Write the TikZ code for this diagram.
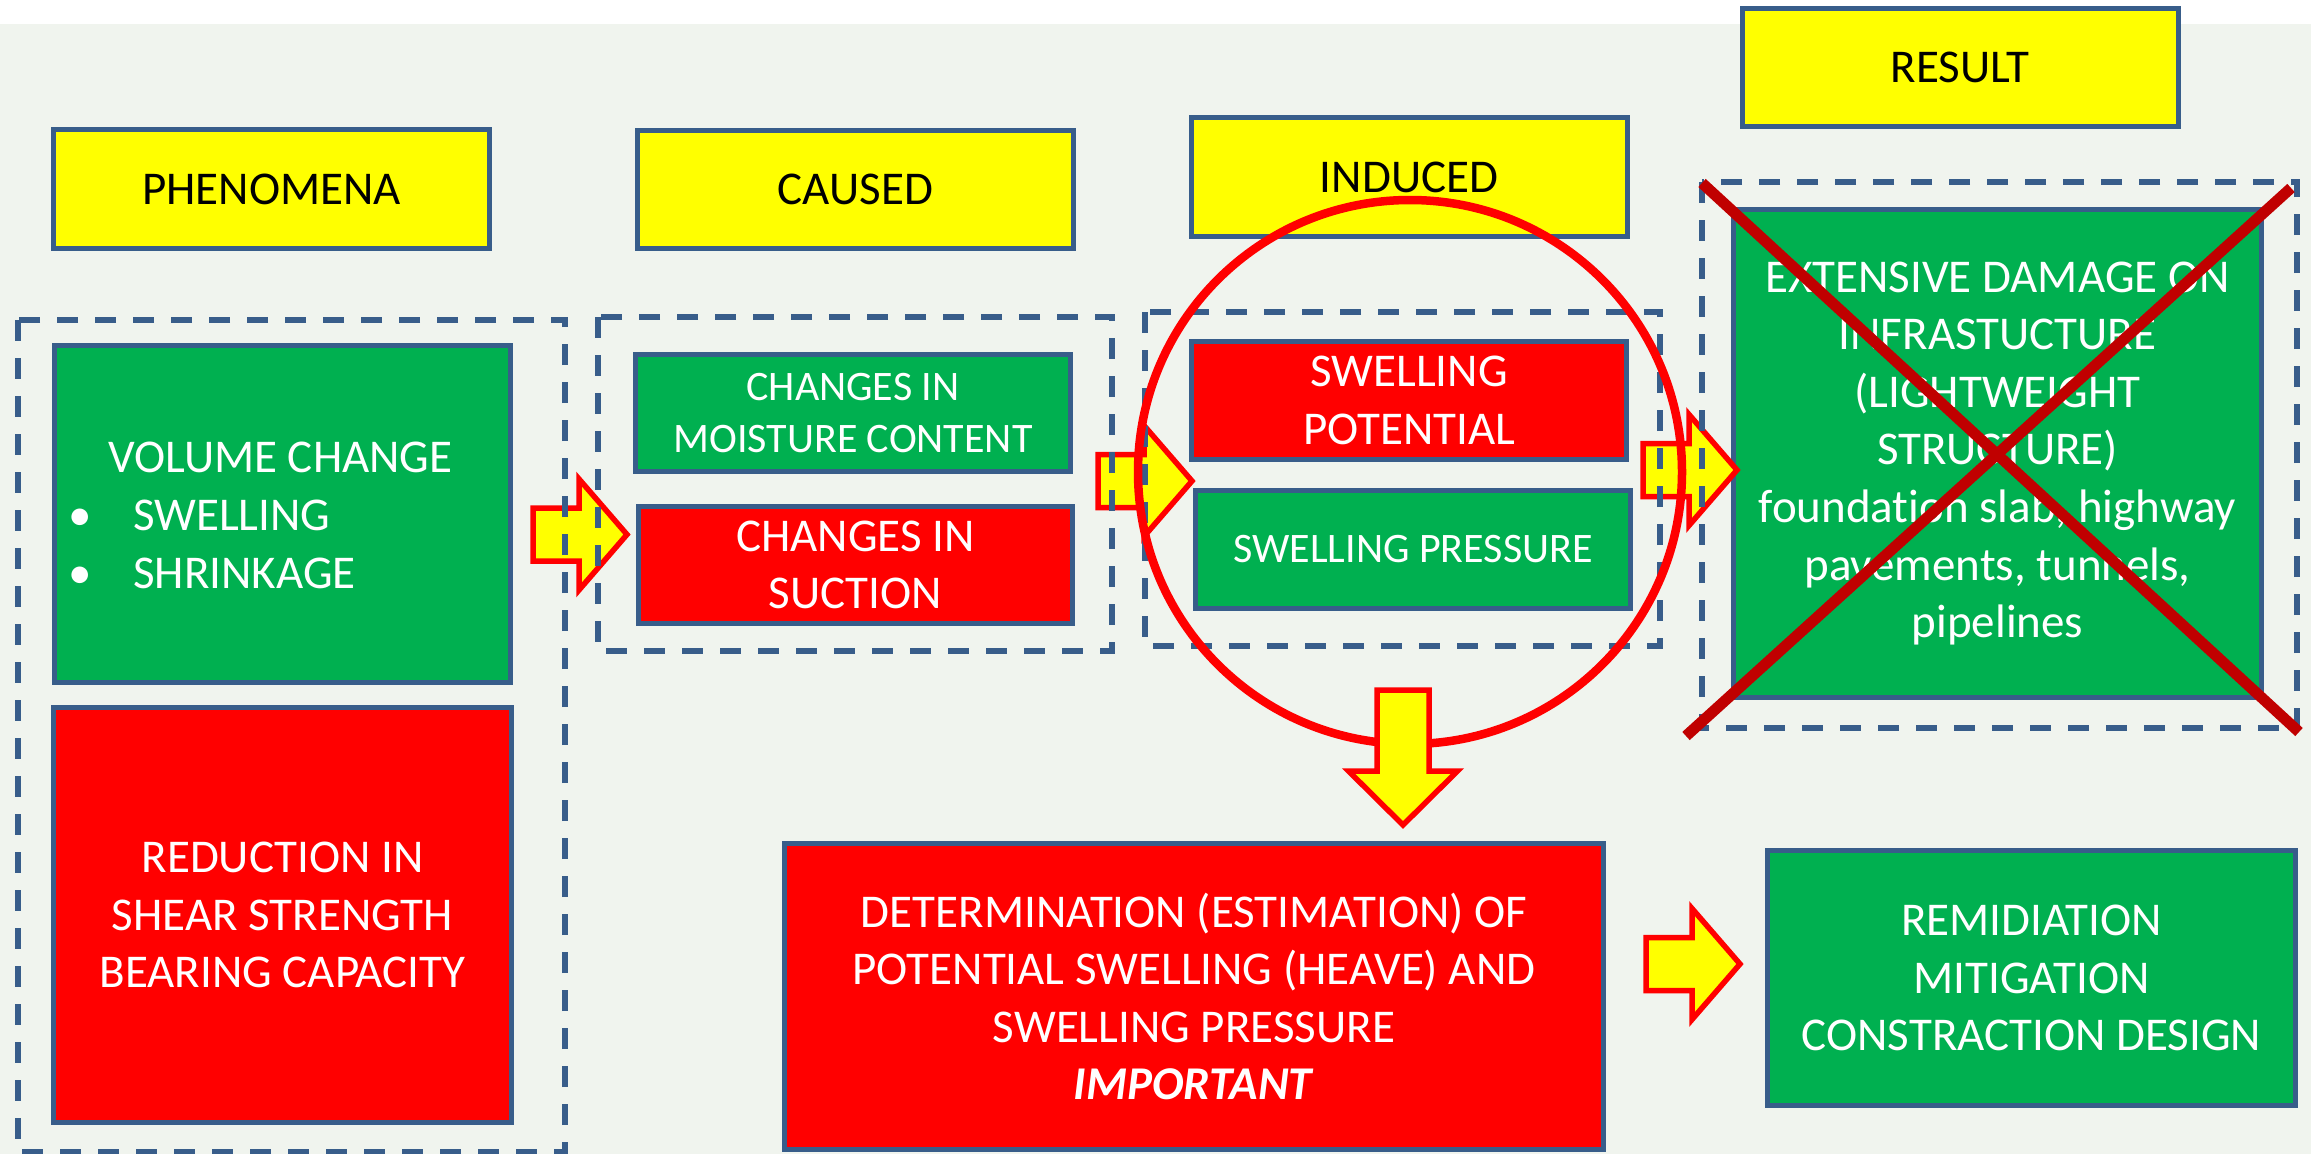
\documentclass[tikz,border=0pt]{standalone}
\usepackage{fontspec}
\setmainfont{Carlito}[Ligatures=NoCommon,RawFeature={-liga;-clig;-dlig}]
\definecolor{bgc}{RGB}{240,244,238}
\definecolor{bordblue}{RGB}{56,93,138}
\definecolor{yel}{RGB}{255,255,0}
\definecolor{grn}{RGB}{0,176,80}
\definecolor{rd}{RGB}{255,0,0}
\definecolor{xred}{RGB}{192,0,0}
\tikzset{
  box/.style={draw=bordblue, line width=5pt, inner sep=0pt, align=center, anchor=center},
  bigtxt/.style={font=\fontsize{47}{57.6}\selectfont},
  smalltxt/.style={font=\fontsize{42}{51.5}\selectfont},
  hdr/.style={box, fill=yel, text=black, minimum width=436pt, minimum height=118.5pt, bigtxt},
  gbox/.style={box, fill=grn, text=white},
  rbox/.style={box, fill=rd, text=white},
  groupbox/.style={draw=bordblue, line width=5.5pt, dash pattern=on 21pt off 17pt},
  blockarrow/.style={draw=rd, fill=yel, line width=5.5pt, line join=miter},
  ring/.style={circle, draw=rd, line width=8.5pt, inner sep=0pt, minimum size=544pt},
  crossline/.style={draw=xred, line width=11pt},
  plain/.style={inner sep=0pt, text=white, bigtxt}
}
\newcommand\rblock[2]{% left x, centre y
  \draw[blockarrow] (#1,#2) ++(0,-26.5) -- ++(46,0) -- ++(0,-29) -- ++(48,55.5)
    -- ++(-48,55.5) -- ++(0,-29) -- ++(-46,0) -- cycle;}
\begin{document}
\begin{tikzpicture}[x=1pt,y=-1pt]
\useasboundingbox (0,0) rectangle (2311,1154);
\fill[white] (0,0) rectangle (2311,1154);
\fill[bgc] (0,24) rectangle (2311,1154);

% headers
\node[hdr] (hphen) at (271.5,189) {PHENOMENA};
\node[hdr] (hcaus) at (855.5,189.5) {CAUSED};
\node[hdr] (hind) at (1409,177) {INDUCED};
\node[hdr] (hres) at (1960,67.5) {RESULT};

% column 1
\node[gbox, minimum width=456.5pt, minimum height=337.5pt] (vol) at (282.5,514) {};
\node[plain, anchor=base west] (volt) at (108,472) {VOLUME CHANGE};
\node[plain, anchor=base] (b1) at (80,530) {\textbullet};
\node[plain, anchor=base west] (sw) at (133,530) {SWELLING};
\node[plain, anchor=base] (b2) at (80,588) {\textbullet};
\node[plain, anchor=base west] (sh) at (133,588) {SHRINKAGE};
\node[rbox, bigtxt, minimum width=458.5pt, minimum height=415.5pt] (red) at (282.5,915) {REDUCTION IN\\SHEAR STRENGTH\\BEARING CAPACITY};

% column 2
\node[gbox, smalltxt, minimum width=435.5pt, minimum height=117.5pt] (moist) at (853,413) {CHANGES IN\\MOISTURE CONTENT};
\node[rbox, bigtxt, minimum width=434.5pt, minimum height=117.5pt] (suct) at (855.5,565) {CHANGES IN\\SUCTION};

% column 3
\node[rbox, bigtxt, minimum width=435.5pt, minimum height=118.5pt] (pot) at (1409,400.5) {SWELLING\\POTENTIAL};
\node[gbox, smalltxt, minimum width=435.5pt, minimum height=118.5pt] (press) at (1413,549.5) {SWELLING PRESSURE};

% result
\node[gbox, bigtxt, minimum width=528.5pt, minimum height=488.5pt] (dam) at (1997.5,453.5)
  {EXTENSIVE DAMAGE ON\\INFRASTUCTURE\\(LIGHTWEIGHT\\STRUCTURE)\\foundat\kern0pt ion slab, highway\\pavements, tunnels,\\pipelines};

% bottom row
\node[rbox, bigtxt, minimum width=819.5pt, minimum height=306.5pt] (det) at (1194,996.5)
  {DETERMINATION (ESTIMATION) OF\\POTENTIAL SWELLING (HEAVE) AND\\SWELLING PRESSURE\\\textbf{\textit{IMPORTANT}}};
\node[gbox, bigtxt, minimum width=528.5pt, minimum height=255.5pt] (rem) at (2031.5,978)
  {REMIDIATION\\MITIGATION\\CONSTRACTION DESIGN};

% block arrows
\rblock{533}{534.5}
\rblock{1098}{481}
\rblock{1643}{470}
\rblock{1646}{964}

% dashed groups
\draw[groupbox] (18,320) rectangle (565,1152);
\draw[groupbox] (598,317) rectangle (1112,651);
\draw[groupbox] (1145,312) rectangle (1660,646);
\draw[groupbox] (1702,182) rectangle (2297,728);

% highlight ring
\node[ring] (hl) at (1410,472) {};

% down arrow
\draw[blockarrow] (1377,690) -- (1429,690) -- (1429,771) -- (1457.5,771) -- (1403,825)
  -- (1348.5,771) -- (1377,771) -- cycle;

% cross
\draw[crossline] (1702,183) -- (2299,732);
\draw[crossline] (2291,188) -- (1686,736);
\end{tikzpicture}
\end{document}
